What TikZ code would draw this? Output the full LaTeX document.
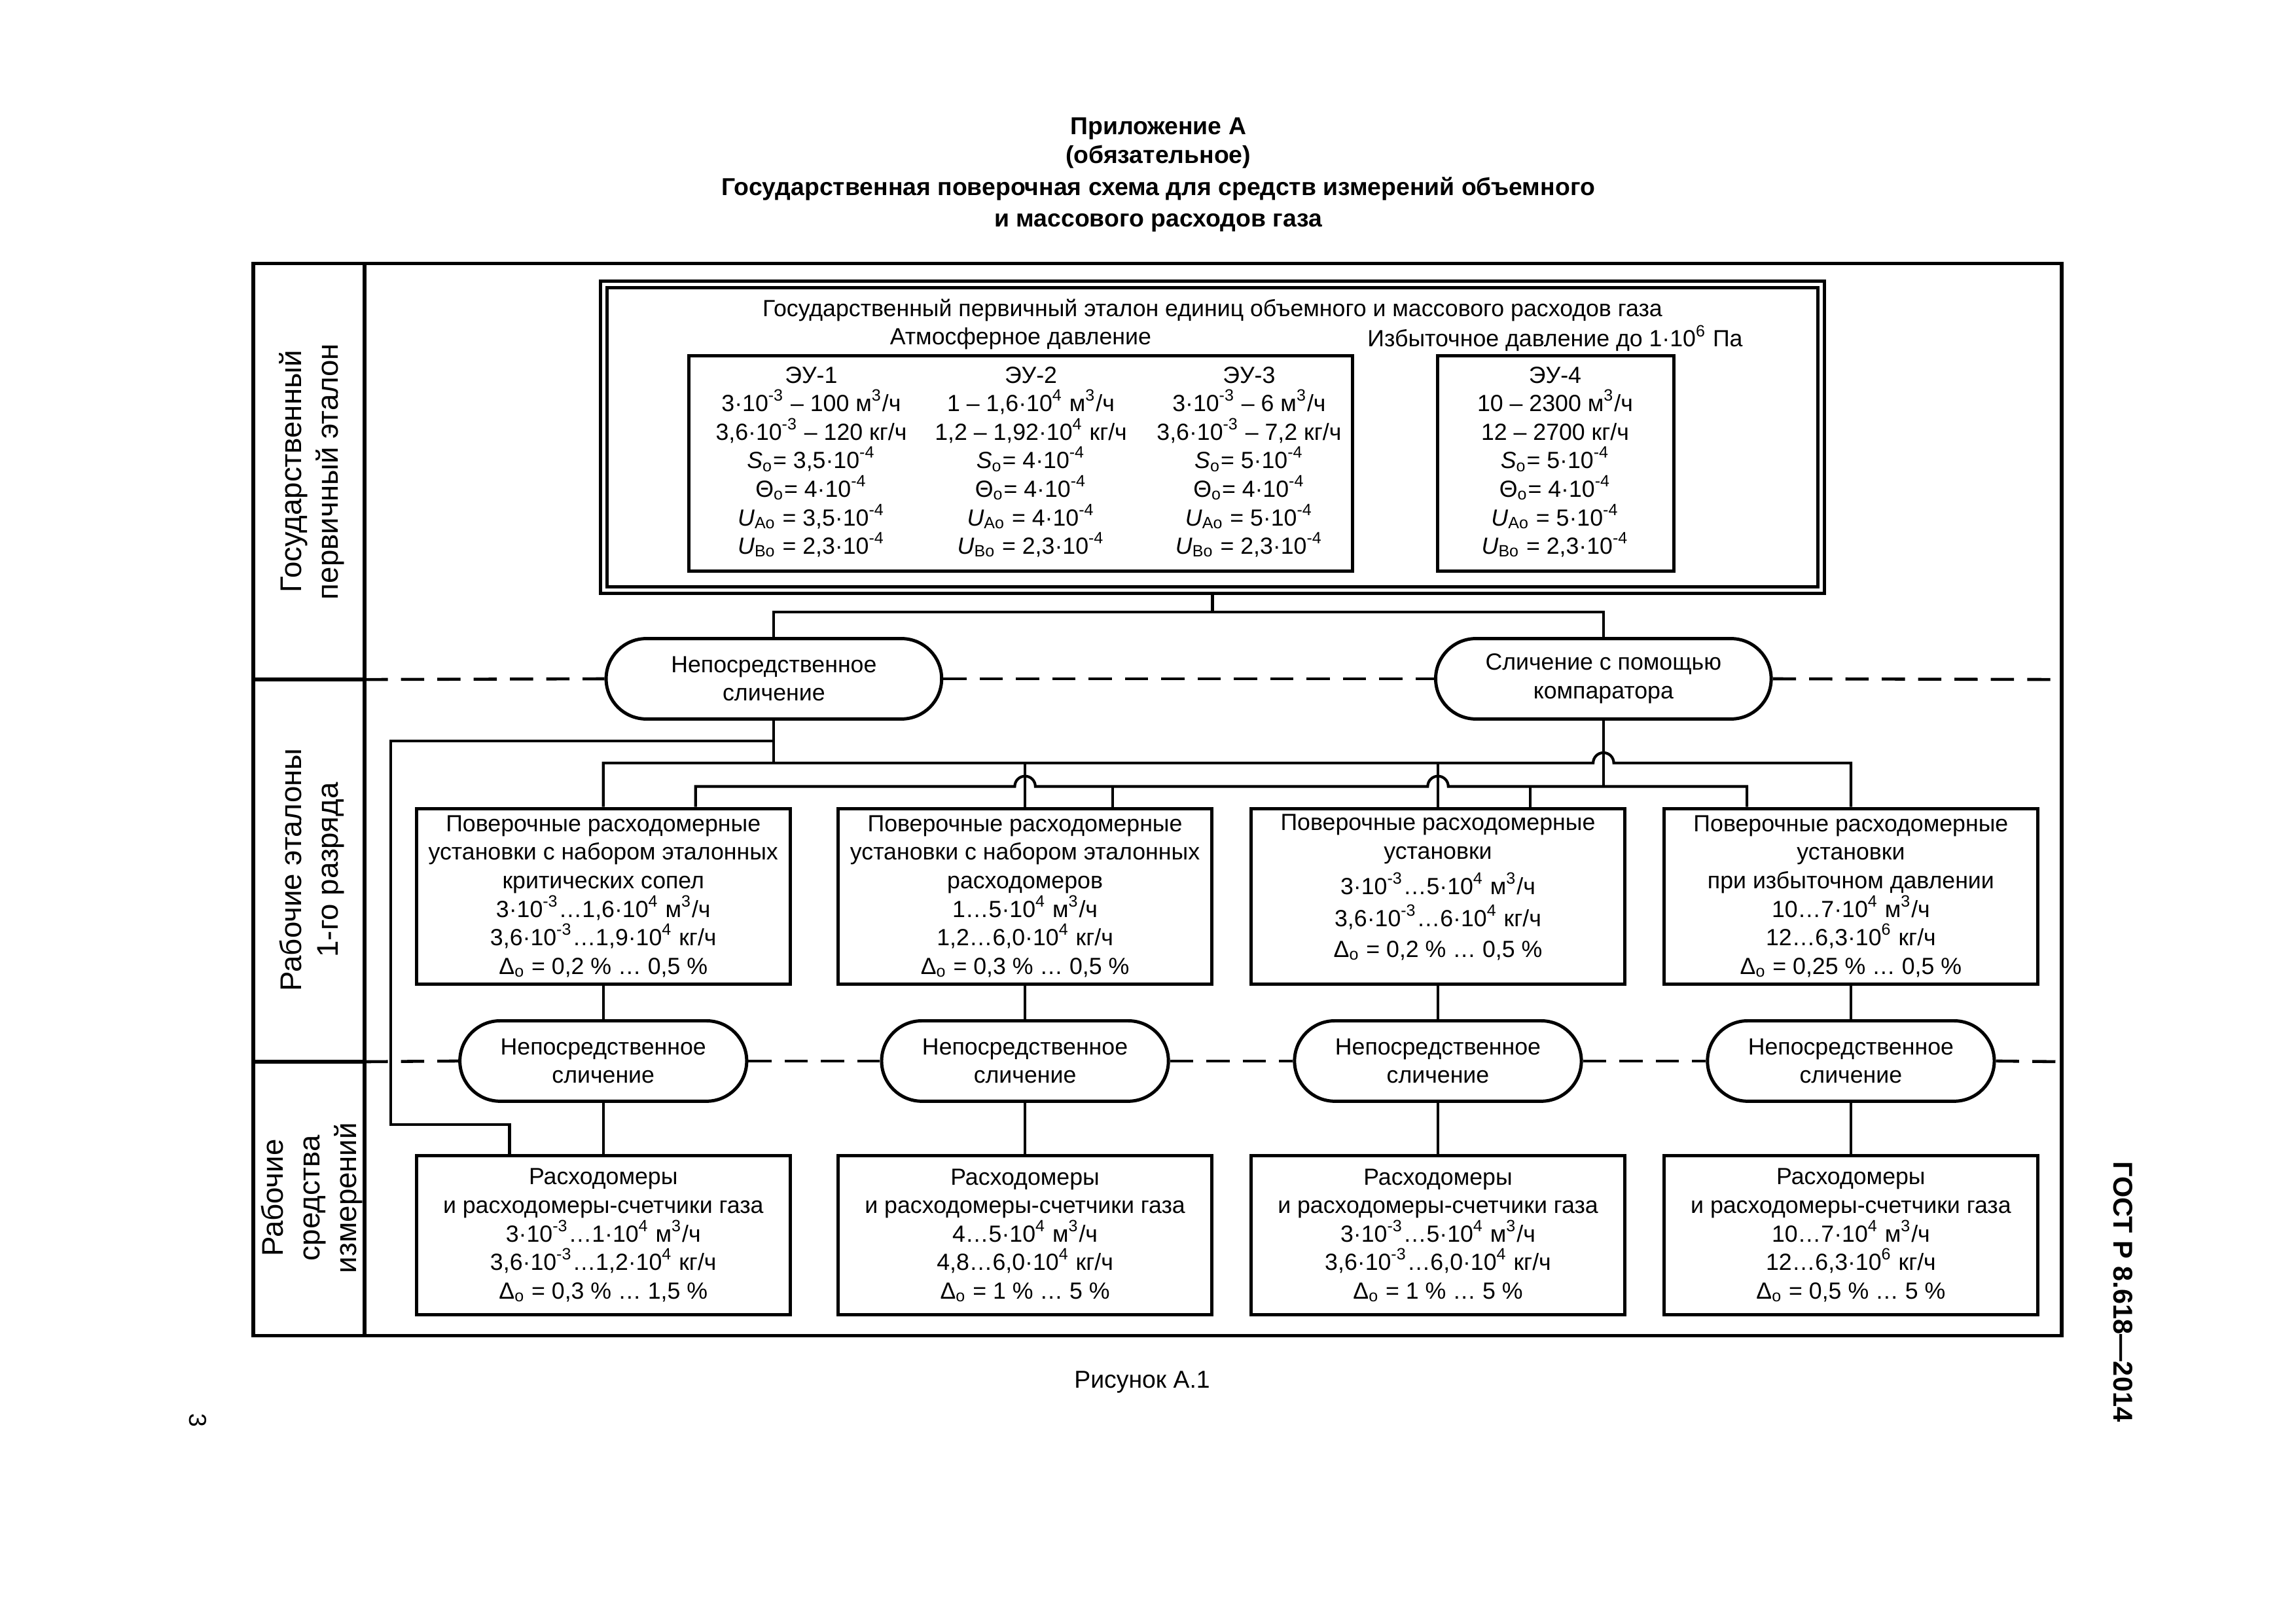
\documentclass[tikz,border=0pt]{standalone}
\usepackage{fontspec}
\setmainfont{Liberation Sans}
\usetikzlibrary{shapes.misc,positioning,calc}
\newcommand{\sps}[1]{\textsuperscript{#1}}
\newcommand{\sbs}[1]{\textsubscript{#1}}

\begin{document}
\begin{tikzpicture}[
    x=0.18941mm, y=-0.18941mm,
    frameline/.style={line width=1.3pt},
    conn/.style={line width=1pt},
    sepline/.style={line width=1.1pt, dash pattern=on 3mm off 1.7mm},
    txt/.style={font=\fontsize{8.6}{10.5}\selectfont, align=center, inner sep=0pt},
    stdbox/.style={txt, draw, line width=1.2pt, minimum width=48.3mm},
    wstd/.style={stdbox, minimum height=22.7mm},
    winst/.style={stdbox, minimum height=20.6mm},
    cmpoval/.style={txt, draw, rounded rectangle, line width=1.2pt, minimum height=10.4mm},
    rowlabel/.style={rotate=90, align=center, inner sep=0pt, font=\fontsize{11}{13.4}\selectfont},
    title/.style={font=\bfseries\fontsize{9}{11}\selectfont, inner sep=0pt}
]
    \useasboundingbox (0,0) rectangle (1568,1108.7);

    % title
    \node[title] (t1) at (791,88) {Приложение А};
    \node[title] (t2) at (791,107) {(обязательное)};
    \node[title] (t3) at (791,129) {Государственная поверочная схема для средств измерений объемного};
    \node[title] (t4) at (791,152) {и массового расходов газа};

    % frame and rows
    \draw[frameline] (173,180) rectangle (1408,912);
    \draw[frameline] (249,180) -- (249,912);
    \draw[frameline] (173,464) -- (249,464);
    \draw[frameline] (173,725) -- (249,725);

    \node[rowlabel] (lab1) at (213,322) {Государственный\\первичный эталон};
    \node[rowlabel] (lab2) at (213,594) {Рабочие эталоны\\1-го разряда};
    \node[rowlabel] (lab3) at (213,818) {Рабочие\\средства\\измерений};

    % primary standard
    \node[draw, double, line width=1.2pt, double distance=1.2pt, minimum width=157.5mm,
          minimum height=39.5mm, inner sep=0pt] (tbox) at (828,298.5) {};
    \node[txt] (ttl) at (828,212) {Государственный первичный эталон единиц объемного и массового расходов газа};
    \node[txt] (atm) at (697,231) {Атмосферное давление};
    \node[txt] (izb) at (1062,231) {Избыточное давление до 1·10\sps{6} Па};
    \node[draw, line width=1.2pt, minimum width=85.8mm, minimum height=27.8mm] (eu123) at (697,316.5) {};
    \node[draw, line width=1.2pt, minimum width=30.5mm, minimum height=27.8mm] (eu4) at (1062.5,316.5) {};

    \node[txt, anchor=north] (eu1) at (554,250) {ЭУ-1\\3·10\sps{-3} – 100 м\sps{3}/ч\\3,6·10\sps{-3} – 120 кг/ч\\
        \textit{S}\sbs{o}= 3,5·10\sps{-4}\\Θ\sbs{o}= 4·10\sps{-4}\\\textit{U}\sbs{Ao} = 3,5·10\sps{-4}\\\textit{U}\sbs{Bo} = 2,3·10\sps{-4}};
    \node[txt, anchor=north] (eu2) at (704,250) {ЭУ-2\\1 – 1,6·10\sps{4} м\sps{3}/ч\\1,2 – 1,92·10\sps{4} кг/ч\\
        \textit{S}\sbs{o}= 4·10\sps{-4}\\Θ\sbs{o}= 4·10\sps{-4}\\\textit{U}\sbs{Ao} = 4·10\sps{-4}\\\textit{U}\sbs{Bo} = 2,3·10\sps{-4}};
    \node[txt, anchor=north] (eu3) at (853,250) {ЭУ-3\\3·10\sps{-3} – 6 м\sps{3}/ч\\3,6·10\sps{-3} – 7,2 кг/ч\\
        \textit{S}\sbs{o}= 5·10\sps{-4}\\Θ\sbs{o}= 4·10\sps{-4}\\\textit{U}\sbs{Ao} = 5·10\sps{-4}\\\textit{U}\sbs{Bo} = 2,3·10\sps{-4}};
    \node[txt, anchor=north] (eu4t) at (1062,250) {ЭУ-4\\10 – 2300 м\sps{3}/ч\\12 – 2700 кг/ч\\
        \textit{S}\sbs{o}= 5·10\sps{-4}\\Θ\sbs{o}= 4·10\sps{-4}\\\textit{U}\sbs{Ao} = 5·10\sps{-4}\\\textit{U}\sbs{Bo} = 2,3·10\sps{-4}};

    % comparison methods
    \node[cmpoval, minimum width=43.4mm] (ovA) at (528.5,463.5) {Непосредственное\\сличение};
    \node[cmpoval, minimum width=43.4mm] (ovB) at (1095,463.5) {Сличение с помощью\\компаратора};

    % working standards
    \node[wstd] (wb1) at (412,612) {Поверочные расходомерные\\установки с набором эталонных\\критических сопел\\
        3·10\sps{-3}…1,6·10\sps{4} м\sps{3}/ч\\3,6·10\sps{-3}…1,9·10\sps{4} кг/ч\\Δ\sbs{o} = 0,2 \% … 0,5 \%};
    \node[wstd] (wb2) at (700,612) {Поверочные расходомерные\\установки с набором эталонных\\расходомеров\\
        1…5·10\sps{4} м\sps{3}/ч\\1,2…6,0·10\sps{4} кг/ч\\Δ\sbs{o} = 0,3 \% … 0,5 \%};
    \node[wstd] (wb3) at (982,612) {};
    \node[txt] (wb3t) at (982,606) {Поверочные расходомерные\\установки\\[2.4pt]
        3·10\sps{-3}…5·10\sps{4} м\sps{3}/ч\\[1.5pt]3,6·10\sps{-3}…6·10\sps{4} кг/ч\\[0.8pt]Δ\sbs{o} = 0,2 \% … 0,5 \%};
    \node[wstd] (wb4) at (1264,612) {Поверочные расходомерные\\установки\\при избыточном давлении\\
        10…7·10\sps{4} м\sps{3}/ч\\12…6,3·10\sps{6} кг/ч\\Δ\sbs{o} = 0,25 \% … 0,5 \%};

    \node[cmpoval, minimum width=37.1mm] (co1) at (412,724.5) {Непосредственное\\сличение};
    \node[cmpoval, minimum width=37.1mm] (co2) at (700,724.5) {Непосредственное\\сличение};
    \node[cmpoval, minimum width=37.1mm] (co3) at (982,724.5) {Непосредственное\\сличение};
    \node[cmpoval, minimum width=37.1mm] (co4) at (1264,724.5) {Непосредственное\\сличение};

    % working instruments
    \node[winst] (mb1) at (412,843.5) {Расходомеры\\и расходомеры-счетчики газа\\
        3·10\sps{-3}…1·10\sps{4} м\sps{3}/ч\\3,6·10\sps{-3}…1,2·10\sps{4} кг/ч\\Δ\sbs{o} = 0,3 \% … 1,5 \%};
    \node[winst] (mb2) at (700,843.5) {Расходомеры\\и расходомеры-счетчики газа\\
        4…5·10\sps{4} м\sps{3}/ч\\4,8…6,0·10\sps{4} кг/ч\\Δ\sbs{o} = 1 \% … 5 \%};
    \node[winst] (mb3) at (982,843.5) {Расходомеры\\и расходомеры-счетчики газа\\
        3·10\sps{-3}…5·10\sps{4} м\sps{3}/ч\\3,6·10\sps{-3}…6,0·10\sps{4} кг/ч\\Δ\sbs{o} = 1 \% … 5 \%};
    \node[winst] (mb4) at (1264,843.5) {Расходомеры\\и расходомеры-счетчики газа\\
        10…7·10\sps{4} м\sps{3}/ч\\12…6,3·10\sps{6} кг/ч\\Δ\sbs{o} = 0,5 \% … 5 \%};

    % dashed level lines
    \draw[sepline] (249,464) -- (ovA.west);
    \draw[sepline] (ovA.east) -- (ovB.west);
    \draw[sepline] (ovB.east) -- (1408,464);
    \draw[sepline] (249,725) -- (co1.west);
    \draw[sepline] (co1.east) -- (co2.west);
    \draw[sepline] (co2.east) -- (co3.west);
    \draw[sepline] (co3.east) -- (co4.west);
    \draw[sepline] (co4.east) -- (1408,725);

    % bus levels
    \coordinate (topbus) at (828,418);
    \coordinate (busU) at (828,521);
    \coordinate (busL) at (828,537);
    \coordinate (loopA) at (267,506);
    \coordinate (loopB) at (267,768);
    \coordinate (md1) at ($(mb1.north)+(-64,0)$);
    \coordinate (d1) at ($(wb1.north)+(63,0)$);
    \coordinate (d2) at ($(wb2.north)+(60,0)$);
    \coordinate (d3) at ($(wb3.north)+(63,0)$);
    \coordinate (d4) at ($(wb4.north)+(-71,0)$);

    \draw[conn] (tbox.south) -- (topbus);
    \draw[conn] (ovA.north) |- (ovB.north |- topbus) -- (ovB.north);

    % direct comparison bus
    \draw[conn] (ovA.south) -- (ovA.south |- busU);
    \draw[conn] (wb1.north) |- ($(ovB.south |- busU)+(-7,0)$)
        arc[start angle=180, end angle=0, radius=1.33mm] -| (wb4.north);
    \draw[conn] (wb2.north) -- (wb2.north |- busU);
    \draw[conn] (wb3.north) -- (wb3.north |- busU);
    \draw[conn] (ovA.south |- loopA) -- (loopA) -- (loopB) -| (md1);

    % comparator bus
    \draw[conn] (ovB.south) -- (ovB.south |- busL);
    \draw[conn] (d1) |- ($(wb2.north |- busL)+(-7,0)$)
        arc[start angle=180, end angle=0, radius=1.33mm]
        -- ($(wb3.north |- busL)+(-7,0)$)
        arc[start angle=180, end angle=0, radius=1.33mm] -| (d4);
    \draw[conn] (d2) -- (d2 |- busL);
    \draw[conn] (d3) -- (d3 |- busL);

    % lower links
    \foreach \i in {1,...,4} {
        \draw[conn] (wb\i.south) -- (co\i.north);
        \draw[conn] (co\i.south) -- (mb\i.north);
    }

    \node[inner sep=0pt, font=\fontsize{9}{10}\selectfont] (cap) at (780,944) {Рисунок А.1};
    \node[inner sep=0pt, rotate=-90, font=\bfseries\fontsize{10}{12}\selectfont] (gost) at (1450,882) {ГОСТ Р 8.618—2014};
    \node[inner sep=0pt, rotate=-90, font=\fontsize{9}{10}\selectfont] (pg) at (135,970) {3};
\end{tikzpicture}
\end{document}
